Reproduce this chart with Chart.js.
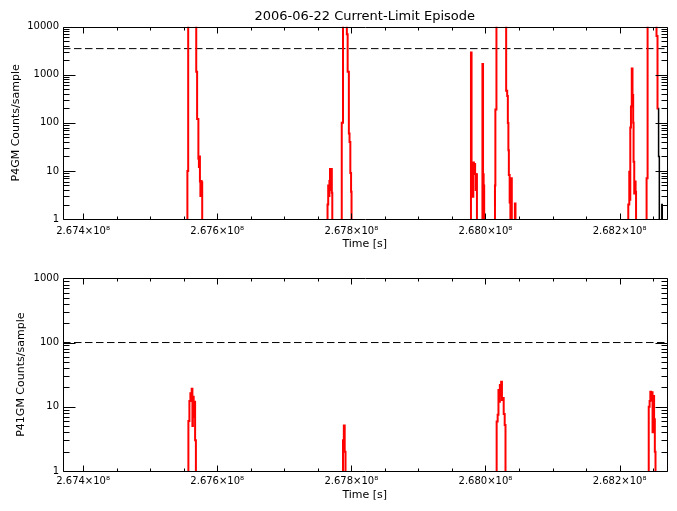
<!DOCTYPE html>
<html>
<head>
<meta charset="utf-8">
<script src="https://cdn.jsdelivr.net/npm/chart.js@4.4.0/dist/chart.umd.min.js"></script>
<style>
  html, body { margin: 0; padding: 0; background: #fff; }
  #wrap { position: relative; width: 677px; height: 511px; }
  .panel { position: absolute; left: 0; }
  #top { top: 0; }
  #bot { top: 255px; }
</style>
</head>
<body>
<div id="wrap">
  <div class="panel" id="top"><canvas id="c1" width="677" height="255"></canvas></div>
  <div class="panel" id="bot"><canvas id="c2" width="677" height="256"></canvas></div>
</div>
<script>
// axis ranges and labelled ticks
const timeRange = [267370000, 268270000];
const timeTicks = [267400000, 267600000, 267800000, 268000000, 268200000];
const p4gmTicks = [1, 10, 100, 1000, 10000];
const p41gmTicks = [1, 10, 100, 1000];
const p4gmLimit = 3500;
const p41gmLimit = 100;

// P4GM counts (value holds from each time onward, 0.5 = below axis)
const p4gmTime = [
  267370000, 267555500, 267556700, 267568700, 267570000, 267571900, 267572700, 267573400,
  267574200, 267574900, 267575700, 267576700, 267577600,
  267764500, 267765500, 267766400, 267767300, 267768200, 267769100, 267770000, 267770900, 267771600,
  267785700, 267787600, 267793300, 267794500, 267796300, 267797300, 267798500, 267799600, 267800300,
  267978400, 267979300, 267980100, 267981000, 267981900, 267982800, 267983700, 267984600,
  267985500, 267986400, 267987300,
  267995500, 267996400, 267997300, 267998100,
  268014200, 268014800, 268016400, 268030900, 268032400, 268033400, 268034200, 268034900,
  268036100, 268037200, 268038400, 268039300, 268043900, 268044800,
  268213000, 268214500, 268215400, 268216000, 268217000, 268218200, 268219300, 268220300,
  268220900, 268221900, 268222800, 268223900, 268224600,
  268240300, 268241800, 268255100, 268256600, 268257500
];
const p4gmCounts = [
  0.5, 10, 30000, 1150, 120, 18, 12, 20,
  6, 3, 6.2, 5.8, 0.5,
  2, 5, 3, 6.2, 11, 4, 11, 3.5, 0.5,
  100, 30000, 7000, 1150, 60, 40, 9, 3.7, 0.5,
  2900, 3, 14, 2.9, 15, 9, 14, 8.6,
  4, 8.5, 0.5,
  1670, 8.5, 5, 0.5,
  5, 190, 30000, 465, 360, 99, 27, 8.2,
  2.2, 0.5, 7, 0.5, 2.1, 0.5,
  2, 9.6, 2.5, 80, 220, 1350, 380, 100,
  15.5, 3.4, 6, 3.7, 0.5,
  7, 30000, 6400, 200, 200
];
// P4GM tail drawn in black at the right edge
const p4gmTailTime = [268257500, 268258200, 268259300, 268263000, 268263700];
const p4gmTailCounts = [200, 20, 0.5, 2, 0.5];

// P41GM counts
const p41gmTime = [
  267370000, 267557000, 267558500, 267560000, 267561200, 267561900, 267563000, 267563700,
  267564900, 267566000, 267567000, 267568200,
  267787600, 267788800, 267790100, 267791300,
  268016700, 268018200, 268019400, 268020700, 268021500, 268022700, 268023400, 268024600,
  268025700, 268027200, 268028700, 268029900,
  268243500, 268244800, 268245900, 268247000, 268248100, 268249200, 268250300, 268251500,
  268252600, 268253600, 268270000
];
const p41gmCounts = [
  0.5, 6, 12.3, 16.2, 13, 19, 5, 14.3,
  7, 12, 3, 0.5,
  3, 5.1, 2, 0.5,
  5.9, 7.5, 18.3, 12, 21.8, 15, 24.6, 12.7,
  13.7, 7.7, 5.2, 0.5,
  10, 12.3, 17.2, 12.7, 16.8, 4, 14.7, 6.4,
  2, 0.5, 0.5
];

Chart.defaults.font.family = 'DejaVu Sans';
Chart.defaults.color = '#000';

const pts = (xs, ys) => xs.map((t, i) => ({ x: t, y: ys[i] }));

// IDL-style box with inward ticks on all four sides
const boxTicks = {
  id: 'boxTicks',
  afterDatasetsDraw(chart) {
    const { ctx, chartArea: a, scales: { x, y } } = chart;
    const L = Math.round(a.left) + 0.5, R = Math.round(a.right) + 0.5;
    const T = Math.round(a.top) + 0.5, B = Math.round(a.bottom) + 0.5;
    ctx.save();
    ctx.strokeStyle = '#000';
    ctx.lineWidth = 1;
    ctx.beginPath();
    ctx.rect(L, T, R - L, B - T);
    for (let v = Math.ceil(x.min / 50000) * 50000; v <= x.max; v += 50000) {
      const px = Math.round(x.getPixelForValue(v)) + 0.5;
      const len = (v - 267400000) % 200000 === 0 ? 6 : 3;
      ctx.moveTo(px, B); ctx.lineTo(px, B - len);
      ctx.moveTo(px, T); ctx.lineTo(px, T + len);
    }
    for (let d = 1; d <= y.max; d *= 10) {
      for (let k = 1; k <= 9; k++) {
        const v = k * d;
        if (v > y.max) break;
        const py = Math.round(y.getPixelForValue(v)) + 0.5;
        const len = k === 1 ? 12 : 6;
        ctx.moveTo(L, py); ctx.lineTo(L + len, py);
        ctx.moveTo(R, py); ctx.lineTo(R - len, py);
      }
    }
    ctx.stroke();
    ctx.restore();
  }
};

function makePanel(canvas, opt) {
  return new Chart(canvas, {
    type: 'line',
    data: { datasets: opt.datasets },
    options: {
      responsive: false,
      animation: false,
      layout: { padding: { left: 0, right: 10.5, top: opt.padTop, bottom: 0 } },
      elements: { point: { radius: 0 }, line: { tension: 0 } },
      plugins: {
        legend: { display: false },
        tooltip: { enabled: false },
        title: opt.title
      },
      scales: {
        x: {
          type: 'linear',
          min: timeRange[0],
          max: timeRange[1],
          grid: { display: false, drawTicks: false },
          border: { display: false },
          afterBuildTicks: s => { s.ticks = timeTicks.map(v => ({ value: v })); },
          ticks: {
            callback: v => (v / 1e8).toFixed(3) + '×10⁸',
            font: { size: 10 },
            padding: opt.xTickPad,
            maxRotation: 0,
            autoSkip: false
          },
          title: { display: true, text: 'Time [s]', font: { size: 11 }, padding: { top: 0, bottom: opt.xTitlePad } },
          afterFit: s => { s.height = opt.xHeight; }
        },
        y: {
          type: 'logarithmic',
          min: 1,
          max: opt.yMax,
          grid: { display: false, drawTicks: false },
          border: { display: false },
          afterBuildTicks: s => { s.ticks = opt.yTicks.map(v => ({ value: v })); },
          ticks: { callback: v => String(v), font: { size: 10 }, padding: 4, autoSkip: false },
          title: { display: true, text: opt.yTitle, font: { size: 11 }, padding: { top: opt.yTitlePad, bottom: 0 } },
          afterFit: s => { s.width = 63; }
        }
      }
    },
    plugins: [boxTicks]
  });
}

const dashed = (limit) => ({
  data: [{ x: timeRange[0], y: limit }, { x: timeRange[1], y: limit }],
  borderColor: '#000',
  borderWidth: 1,
  borderDash: [7.5, 3.5]
});

makePanel(document.getElementById('c1'), {
  padTop: 0,
  yMax: 10000,
  yTicks: p4gmTicks,
  yTitle: 'P4GM Counts/sample',
  yTitlePad: 9.4,
  xHeight: 36,
  xTickPad: 6,
  xTitlePad: 4.4,
  title: {
    display: true,
    text: '2006-06-22 Current-Limit Episode',
    fullSize: false,
    font: { size: 13, weight: 'normal' },
    color: '#000',
    padding: { top: 8.7, bottom: 2.4 }
  },
  datasets: [
    { data: pts(p4gmTime, p4gmCounts), borderColor: '#ff0000', borderWidth: 2, stepped: true },
    { data: pts(p4gmTailTime, p4gmTailCounts), borderColor: '#000000', borderWidth: 1.5, stepped: true },
    dashed(p4gmLimit)
  ]
});

makePanel(document.getElementById('c2'), {
  padTop: 23.3,
  yMax: 1000,
  yTicks: p41gmTicks,
  yTitle: 'P41GM Counts/sample',
  yTitlePad: 14.4,
  xHeight: 40,
  xTickPad: 4.5,
  xTitlePad: 9.4,
  title: { display: false },
  datasets: [
    { data: pts(p41gmTime, p41gmCounts), borderColor: '#ff0000', borderWidth: 2, stepped: true },
    dashed(p41gmLimit)
  ]
});
</script>
</body>
</html>
